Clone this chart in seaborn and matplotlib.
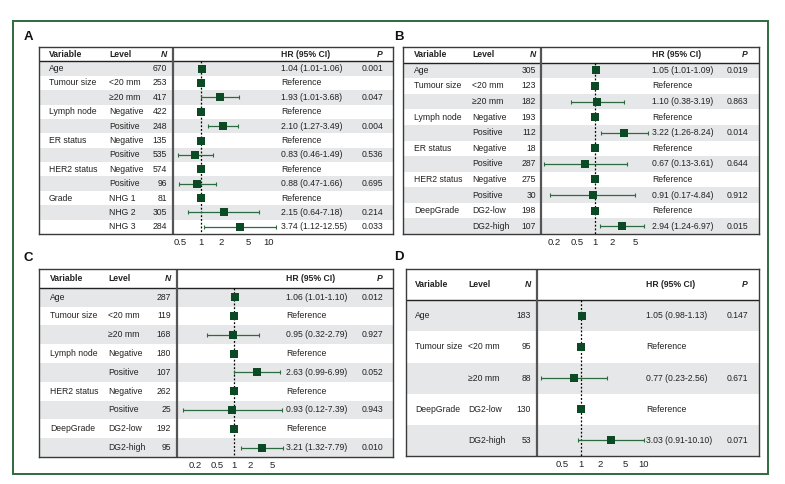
import numpy as np
import pandas as pd
import matplotlib.pyplot as plt
from matplotlib.patches import Rectangle
from matplotlib.ticker import NullLocator
import seaborn as sns

# ---- data ----
var_a = ["Age", "Tumour size", "", "Lymph node", "", "ER status", "", "HER2 status", "", "Grade", "", ""]
lvl_a = ["", "<20 mm", "≥20 mm", "Negative", "Positive", "Negative", "Positive", "Negative", "Positive",
         "NHG 1", "NHG 2", "NHG 3"]
n_a = [670, 253, 417, 422, 248, 135, 535, 574, 96, 81, 305, 284]
hr_a = [1.04, 1, 1.93, 1, 2.10, 1, 0.83, 1, 0.88, 1, 2.15, 3.74]
lo_a = [1.01, np.nan, 1.01, np.nan, 1.27, np.nan, 0.46, np.nan, 0.47, np.nan, 0.64, 1.12]
hi_a = [1.06, np.nan, 3.68, np.nan, 3.49, np.nan, 1.49, np.nan, 1.66, np.nan, 7.18, 12.55]
p_a = ["0.001", "", "0.047", "", "0.004", "", "0.536", "", "0.695", "", "0.214", "0.033"]
ticks_a = [0.5, 1, 2, 5, 10]

var_b = ["Age", "Tumour size", "", "Lymph node", "", "ER status", "", "HER2 status", "", "DeepGrade", ""]
lvl_b = ["", "<20 mm", "≥20 mm", "Negative", "Positive", "Negative", "Positive", "Negative", "Positive",
         "DG2-low", "DG2-high"]
n_b = [305, 123, 182, 193, 112, 18, 287, 275, 30, 198, 107]
hr_b = [1.05, 1, 1.10, 1, 3.22, 1, 0.67, 1, 0.91, 1, 2.94]
lo_b = [1.01, np.nan, 0.38, np.nan, 1.26, np.nan, 0.13, np.nan, 0.17, np.nan, 1.24]
hi_b = [1.09, np.nan, 3.19, np.nan, 8.24, np.nan, 3.61, np.nan, 4.84, np.nan, 6.97]
p_b = ["0.019", "", "0.863", "", "0.014", "", "0.644", "", "0.912", "", "0.015"]
ticks_b = [0.2, 0.5, 1, 2, 5]

var_c = ["Age", "Tumour size", "", "Lymph node", "", "HER2 status", "", "DeepGrade", ""]
lvl_c = ["", "<20 mm", "≥20 mm", "Negative", "Positive", "Negative", "Positive", "DG2-low", "DG2-high"]
n_c = [287, 119, 168, 180, 107, 262, 25, 192, 95]
hr_c = [1.06, 1, 0.95, 1, 2.63, 1, 0.93, 1, 3.21]
lo_c = [1.01, np.nan, 0.32, np.nan, 0.99, np.nan, 0.12, np.nan, 1.32]
hi_c = [1.10, np.nan, 2.79, np.nan, 6.99, np.nan, 7.39, np.nan, 7.79]
p_c = ["0.012", "", "0.927", "", "0.052", "", "0.943", "", "0.010"]
ticks_c = [0.2, 0.5, 1, 2, 5]

var_d = ["Age", "Tumour size", "", "DeepGrade", ""]
lvl_d = ["", "<20 mm", "≥20 mm", "DG2-low", "DG2-high"]
n_d = [183, 95, 88, 130, 53]
hr_d = [1.05, 1, 0.77, 1, 3.03]
lo_d = [0.98, np.nan, 0.23, np.nan, 0.91]
hi_d = [1.13, np.nan, 2.56, np.nan, 10.10]
p_d = ["0.147", "", "0.671", "", "0.071"]
ticks_d = [0.5, 1, 2, 5, 10]

# ---- style ----
sns.set_theme(style="white")
plt.rcParams["font.family"] = ["Liberation Sans", "DejaVu Sans"]

W, H = 785, 484
SHADE = "#e6e7e8"
MARK = "#0c4a26"
LINE = "#2c6b40"
FS = 6.2

fig = plt.figure(figsize=(W / 100, H / 100), dpi=100)


def rect(l, t, r, b):
    return [l / W, 1 - b / H, (r - l) / W, (b - t) / H]


def draw_panel(letter, box, sep, x1, ppd, cols, var, lvl, n, hr, lo, hi, p, ticks):
    left, top, right, bottom = box
    nrow = len(var)
    df = pd.DataFrame({"var": var, "lvl": lvl, "n": n, "hr": hr, "lo": lo, "hi": hi, "p": p})
    df["row"] = np.arange(nrow)
    df["hr_txt"] = [f"{h:.2f} ({l:.2f}-{u:.2f})" if not np.isnan(l) else "Reference"
                    for h, l, u in zip(df.hr, df.lo, df.hi)]

    # table axes
    ax = fig.add_axes(rect(left, top, right, bottom))
    ax.set_xlim(0, right - left)
    ax.set_ylim(nrow - 0.5, -1.5)
    ax.set_xticks([])
    ax.set_yticks([])
    for s in ax.spines.values():
        s.set_color("#3a3a3a")
        s.set_linewidth(1.0)
    for i in range(0, nrow, 2):
        ax.axhspan(i - 0.5, i + 0.5, color=SHADE, lw=0, zorder=0)
    ax.axhline(-0.5, color="#222222", lw=1.0)
    ax.axvline(sep - left, color="#555555", lw=1.6)

    cv, cl, cn, chr_, cp = cols
    hdr = dict(fontsize=FS, fontweight="bold", va="center", color="#222222")
    ax.text(cv, -1, "Variable", ha="left", **hdr)
    ax.text(cl, -1, "Level", ha="left", **hdr)
    ax.text(cn, -1, "N", ha="right", style="italic", **hdr)
    ax.text(chr_, -1, "HR (95% CI)", ha="left", **hdr)
    ax.text(cp, -1, "P", ha="right", style="italic", **hdr)
    body = dict(fontsize=FS, va="center", color="#222222")
    for _, r in df.iterrows():
        ax.text(cv, r.row, r["var"], ha="left", **body)
        ax.text(cl, r.row, r["lvl"], ha="left", **body)
        ax.text(cn, r.row, str(r["n"]), ha="right", **body)
        ax.text(chr_, r.row, r["hr_txt"], ha="left", **body)
        ax.text(cp, r.row, r["p"], ha="right", **body)

    # forest axes
    fx = fig.add_axes(rect(sep, top, right, bottom))
    fx.patch.set_alpha(0)
    fx.set_xscale("log")
    ci = df.dropna(subset=["lo"])
    fx.errorbar(ci.hr, ci.row, xerr=[ci.hr - ci.lo, ci.hi - ci.hr], fmt="none",
                ecolor=LINE, elinewidth=0.9, capsize=1.6, capthick=0.8, zorder=2)
    sns.scatterplot(data=df, x="hr", y="row", ax=fx, marker="s", s=32, color=MARK,
                    edgecolor=MARK, linewidth=0, zorder=3)
    fx.vlines(1, -0.5, nrow - 0.5, colors="black", linestyles=(0, (1.5, 1.5)), lw=0.9, zorder=1)
    fx.set_xlim(10 ** ((sep - x1) / ppd), 10 ** ((right - x1) / ppd))
    fx.set_ylim(nrow - 0.5, -1.5)
    fx.set_xticks(ticks, [f"{t:g}" for t in ticks])
    fx.xaxis.set_minor_locator(NullLocator())
    fx.set_yticks([])
    fx.set_xlabel("")
    fx.set_ylabel("")
    fx.tick_params(axis="x", length=0, pad=3, labelsize=6.8, labelcolor="#222222")
    for s in fx.spines.values():
        s.set_visible(False)

    fig.text(letter[1] / W, 1 - letter[2] / H, letter[0], fontsize=9.5, fontweight="bold",
             ha="left", va="center", color="#111111")


draw_panel(("A", 24, 37), (39, 47, 393, 234), 173, 201, 68, (10, 70, 128, 242, 344),
           var_a, lvl_a, n_a, hr_a, lo_a, hi_a, p_a, ticks_a)
draw_panel(("B", 394, 37), (403, 47, 759, 234), 541, 595, 58, (11, 69, 133, 249, 345),
           var_b, lvl_b, n_b, hr_b, lo_b, hi_b, p_b, ticks_b)
draw_panel(("C", 24, 258), (39, 269, 393, 457), 177, 234, 55, (11, 69, 132, 247, 344),
           var_c, lvl_c, n_c, hr_c, lo_c, hi_c, p_c, ticks_c)
draw_panel(("D", 394, 257), (406, 269, 759, 456), 537, 581, 63, (9, 62, 125, 240, 342),
           var_d, lvl_d, n_d, hr_d, lo_d, hi_d, p_d, ticks_d)

# outer green frame
fig.patches.append(Rectangle((13 / W, 1 - 474 / H), (768 - 13) / W, (474 - 21) / H,
                             transform=fig.transFigure, fill=False, edgecolor="#2d6b3e", lw=1.4))

fig.savefig("out.png", dpi=100)
